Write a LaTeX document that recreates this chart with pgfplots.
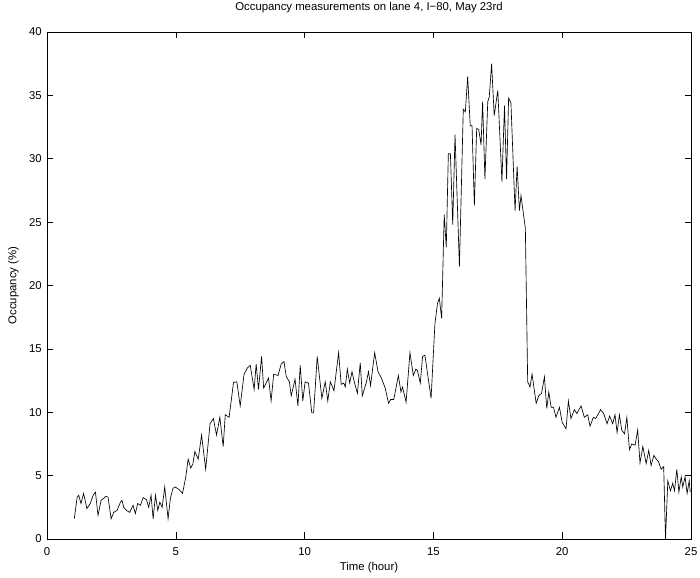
\documentclass[border=0pt]{standalone}
\usepackage{fontspec}
\setmainfont{Liberation Sans}
\usepackage{pgfplots}
\usepackage{pgfplotstable}
\pgfplotsset{compat=1.18}

% Lane 4 occupancy, I-80, hour of day vs. percent
\pgfplotstableread{
h v
1.06 1.6
1.17 3.3
1.23 3.45
1.32 2.8
1.42 3.6
1.55 2.4
1.68 2.8
1.79 3.45
1.88 3.7
1.98 1.87
2.10 3.05
2.20 3.2
2.28 3.37
2.37 3.3
2.49 1.6
2.59 2.1
2.72 2.26
2.85 2.9
2.91 3.05
2.98 2.5
3.08 2.26
3.21 2.1
3.34 2.66
3.43 2.0
3.52 2.8
3.63 2.66
3.73 3.27
3.86 3.1
3.95 2.5
4.04 3.45
4.12 1.6
4.21 3.45
4.30 2.26
4.38 2.9
4.47 2.5
4.57 4.1
4.70 1.6
4.79 3.2
4.89 4.0
4.98 4.1
5.13 3.9
5.26 3.6
5.38 4.8
5.48 6.3
5.58 5.6
5.66 5.9
5.74 6.9
5.87 6.3
6.00 8.2
6.16 5.5
6.33 9.1
6.46 9.5
6.58 8.2
6.71 9.6
6.84 7.3
6.92 9.8
7.07 9.6
7.24 12.35
7.37 12.4
7.50 10.5
7.65 13.0
7.78 13.5
7.89 13.7
8.04 11.8
8.12 13.8
8.21 11.8
8.33 14.4
8.41 11.9
8.60 12.7
8.70 10.9
8.80 13.0
8.97 12.9
9.09 13.8
9.20 14.0
9.29 12.8
9.41 12.4
9.48 11.3
9.63 12.6
9.74 10.5
9.83 13.7
9.93 10.9
10.02 12.4
10.15 12.3
10.28 9.95
10.35 9.95
10.49 14.4
10.67 11.1
10.80 12.4
10.90 10.9
11.00 12.4
11.14 11.7
11.32 14.7
11.42 12.2
11.52 12.3
11.58 12.0
11.66 13.4
11.75 12.3
11.84 13.2
11.94 12.3
12.05 11.5
12.16 13.9
12.24 11.3
12.39 12.3
12.48 13.2
12.56 12.1
12.72 14.7
12.85 13.2
12.98 12.7
13.13 11.9
13.26 10.7
13.34 11.0
13.46 11.0
13.64 12.9
13.74 11.6
13.80 12.0
13.94 10.8
14.09 14.7
14.22 12.9
14.32 13.4
14.38 13.3
14.49 12.3
14.58 14.4
14.67 14.5
14.79 12.8
14.91 11.1
15.06 17.0
15.16 18.6
15.23 19.0
15.32 17.4
15.42 25.6
15.50 23.0
15.58 30.4
15.66 30.4
15.75 24.8
15.84 31.9
16.01 21.5
16.16 33.9
16.24 33.7
16.33 36.5
16.43 32.6
16.50 32.6
16.59 26.3
16.68 32.4
16.76 32.3
16.85 31.1
16.91 34.5
17.00 28.4
17.11 34.5
17.17 34.9
17.26 37.5
17.36 33.4
17.50 35.4
17.66 28.2
17.76 34.2
17.84 28.4
17.92 34.8
18.01 34.4
18.17 25.9
18.25 29.4
18.34 25.9
18.40 27.1
18.57 24.5
18.66 12.4
18.75 12.0
18.83 13.0
18.99 10.7
19.09 11.3
19.20 11.5
19.31 12.8
19.40 10.3
19.48 11.6
19.57 10.4
19.66 10.4
19.76 9.6
19.89 10.4
20.00 9.2
20.15 8.7
20.24 10.9
20.34 9.5
20.47 10.2
20.57 9.9
20.73 10.5
20.86 9.6
20.99 9.8
21.08 8.9
21.21 9.6
21.30 9.5
21.49 10.2
21.61 9.9
21.74 9.1
21.84 9.7
21.96 9.1
22.05 9.8
22.13 8.4
22.22 9.8
22.31 8.6
22.42 8.3
22.51 9.6
22.61 7.05
22.70 7.5
22.83 7.4
22.93 8.6
23.02 6.0
23.13 7.3
23.26 5.95
23.36 7.0
23.45 5.8
23.56 6.6
23.65 6.3
23.74 6.1
23.84 5.5
23.94 5.7
24.01 0.0
24.10 4.6
24.20 3.8
24.29 4.4
24.36 3.8
24.45 5.5
24.53 3.7
24.62 4.9
24.68 4.1
24.77 4.9
24.85 3.6
24.93 4.6
24.97 3.7
}\occupancy

\begin{document}
\begin{tikzpicture}[font=\fontsize{11.4}{13.6}\selectfont]
\begin{axis}[
  scale only axis,
  width=644bp, height=507bp,
  xmin=0, xmax=25, ymin=0, ymax=40,
  xtick={0,5,...,25},
  ytick={0,5,...,40},
  tick align=inside,
  major tick length=6.5bp,
  axis line style={line width=0.6bp},
  every tick/.style={black, line width=0.6bp},
  /pgf/number format/assume math mode=true,
  xticklabel style={inner sep=0pt, anchor=north, yshift=-8.2bp},
  yticklabel style={inner sep=0pt, anchor=east, xshift=-5bp},
  title={Occupancy measurements on lane 4, I−80, May 23rd},
  title style={at={(axis description cs:0.5,1.0256)}, anchor=south, inner sep=0pt},
  xlabel={Time (hour)},
  every axis x label/.style={at={(axis description cs:0.5,0)}, anchor=north, inner sep=0pt, yshift=-23.5bp},
  ylabel={Occupancy (\%)},
  every axis y label/.style={at={(axis description cs:-0.0435,0.5)}, rotate=90, anchor=south, inner sep=0pt},
]
\addplot[black, line width=0.65bp, sharp plot] table[x=h, y=v] {\occupancy};
\end{axis}
\pgfresetboundingbox
\path[use as bounding box] ([shift={(-47bp,-39bp)}]current axis.south west) rectangle ([shift={(9bp,32bp)}]current axis.north east);
\end{tikzpicture}
\end{document}
